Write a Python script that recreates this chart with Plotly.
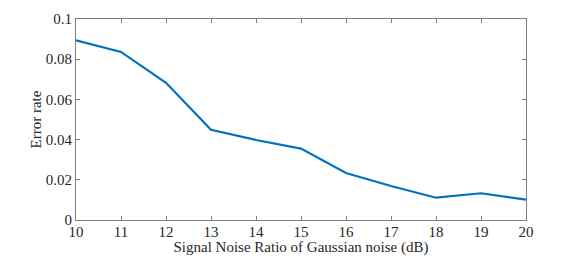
import plotly.graph_objects as go

snr = [10, 11, 12, 13, 14, 15, 16, 17, 18, 19, 20]
error_rate = [0.0894, 0.0836, 0.0683, 0.0449, 0.0398, 0.0355, 0.0234, 0.0169, 0.0111, 0.0133, 0.0101]
y_ticks = [0, 0.02, 0.04, 0.06, 0.08, 0.1]
y_ticktext = ["0", "0.02", "0.04", "0.06", "0.08", "0.1"]
x_ticks = list(range(10, 21))

fig = go.Figure(go.Scatter(x=snr, y=error_rate, mode="lines",
                           line=dict(color="#0072BD", width=2.2)))

font = dict(family="Liberation Serif", size=15, color="#262626")
fig.update_layout(
    width=581, height=256,
    margin=dict(l=76, r=55, t=19, b=36, autoexpand=False),
    plot_bgcolor="white", paper_bgcolor="white",
    showlegend=False, font=font,
    xaxis=dict(range=[10, 20], tickvals=x_ticks, ticks="inside", ticklen=4,
               tickcolor="#808080", showline=True, linecolor="#808080", linewidth=1,
               mirror="ticks", showgrid=False, zeroline=False, automargin=False,
               ticklabelstandoff=-2,
               title=dict(text="Signal Noise Ratio of Gaussian noise (dB)", standoff=4,
                          font=dict(size=15)),
               tickfont=dict(size=15)),
    yaxis=dict(range=[0, 0.1], tickvals=y_ticks, ticktext=y_ticktext, ticks="inside",
               ticklen=4, tickcolor="#808080", showline=True, linecolor="#808080",
               linewidth=1, mirror="ticks", showgrid=False, zeroline=False, automargin=False,
               title=dict(text="Error rate", standoff=0, font=dict(size=15)),
               tickfont=dict(size=15)),
)
fig.write_html("out.html", config={"displayModeBar": False},
               post_script="document.body.style.margin='0';document.body.style.overflow='hidden';")
